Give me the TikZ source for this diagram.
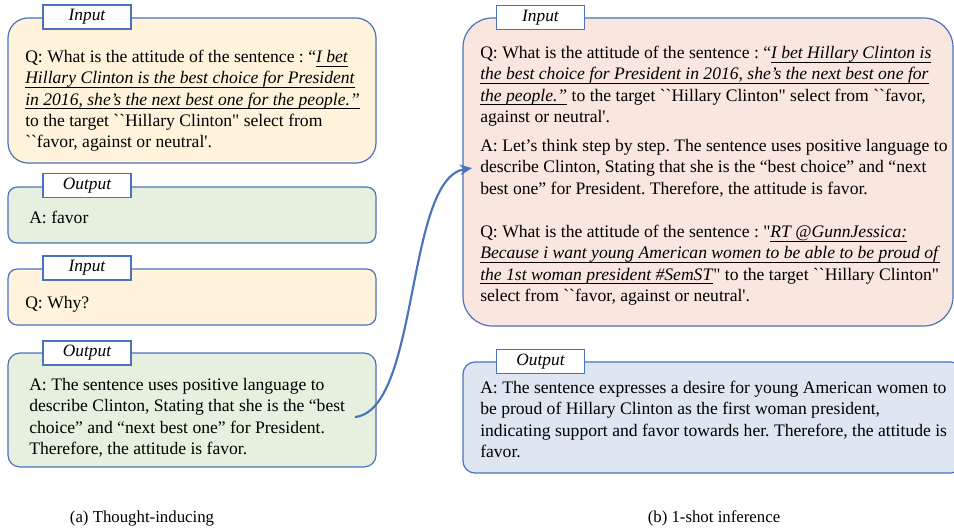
\documentclass[tikz,border=0pt]{standalone}
\usepackage{fontspec}
\setmainfont{Liberation Serif}[Ligatures=TeXOff]
\usepackage{tikz}
\usetikzlibrary{shapes}
\usetikzlibrary{arrows.meta}
\usetikzlibrary{calc}
\frenchspacing
\definecolor{inyellow}{HTML}{FFF3DC}
\definecolor{outgreen}{HTML}{E5F0DE}
\definecolor{inpeach}{HTML}{F9E6DE}
\definecolor{outblue}{HTML}{DEE6F2}
\definecolor{edgeblue}{HTML}{4A72BD}
\newsavebox{\ulbox}
\newcommand{\ulit}[1]{\sbox{\ulbox}{\textit{#1}}\rlap{\rule[-2.8pt]{\wd\ulbox}{0.6pt}}\usebox{\ulbox}}
\newcommand{\bq}{\textasciigrave\textasciigrave}
\tikzstyle{box}=[
        draw=edgeblue,
        line width=0.9pt,
        rectangle,
        inner sep=0pt
]
\tikzstyle{inbox}=[box,fill=inyellow]
\tikzstyle{outbox}=[box,fill=outgreen]
\tikzstyle{tab}=[rectangle,draw=edgeblue,line width=0.9pt,fill=white,
        minimum width=66pt,minimum height=18pt,inner sep=0pt,
        font=\fontsize{13}{14}\selectfont\itshape]
\tikzstyle{txt}=[anchor=north west,inner sep=0pt,align=left,
        font=\fontsize{13.2}{16}\selectfont]
\tikzstyle{caption}=[inner sep=0pt,font=\fontsize{12.6}{14}\selectfont]
\tikzstyle{lien}=[-{Stealth[length=9pt,width=8pt]},draw=edgeblue,line width=1.6pt]

\begin{document}
\begin{tikzpicture}[x=0.75pt,y=-0.75pt]
\useasboundingbox[fill=white] (0,0) rectangle (954,528);
\clip (0,0) rectangle (954,528);
% (a) left column
\node[inbox,rounded corners=15pt,minimum width=276pt,minimum height=108.75pt] (in1) at (192,90.5) {};
\node[outbox,rounded corners=7pt,minimum width=276pt,minimum height=42pt] (out1) at (192,215) {};
\node[inbox,rounded corners=7pt,minimum width=276pt,minimum height=42pt] (in2) at (192,297) {};
\node[outbox,rounded corners=9pt,minimum width=276pt,minimum height=85.5pt] (out2) at (192,410) {};
\node[tab] (tin1) at (87,17) {Input};
\node[tab] (tout1) at (87,185.5) {Output};
\node[tab] (tin2) at (87,268) {Input};
\node[tab] (tout2) at (87,353) {Output};
\node[txt] (q1) at (25,50) {Q: What is the attitude of the sentence : “\ulit{I bet}\\
\ulit{Hillary Clinton is the best choice for President}\\
\ulit{in 2016, she’s the next best one for the people.”}\\
to the target \bq Hillary Clinton" select from\\
\bq favor, against or neutral'.};
\node[txt] (a1) at (29,211) {A: favor};
\node[txt] (q2) at (25,296) {Q: Why?};
\node[txt] (a2) at (29,378) {A: The sentence uses positive language to\\
describe Clinton, Stating that she is the “best\\
choice” and “next best one” for President.\\
Therefore, the attitude is favor.};
\node[caption] (capa) at (142,518) {(a) Thought-inducing};
% (b) right column
\node[box,fill=inpeach,rounded corners=22pt,minimum width=367.5pt,minimum height=231pt] (in3) at (708,172) {};
\node[box,fill=outblue,rounded corners=9pt,minimum width=375pt,minimum height=83.25pt] (out3) at (713,417.5) {};
\node[tab] (tin3) at (540.5,17.5) {Input};
\node[tab] (tout3) at (540.5,361.5) {Output};
\node[txt] (q3) at (480,46) {Q: What is the attitude of the sentence : “\ulit{I bet Hillary Clinton is}\\
\ulit{the best choice for President in 2016, she’s the next best one for}\\
\ulit{the people.”} to the target \bq Hillary Clinton" select from \bq favor,\\
against or neutral'.};
\node[txt] (s3) at (480,139) {A: Let’s think step by step. The sentence uses positive language to\\
describe Clinton, Stating that she is the “best choice” and “next\\
best one” for President. Therefore, the attitude is favor.};
\node[txt] (q4) at (480,225) {Q: What is the attitude of the sentence : "\ulit{RT @GunnJessica:}\\
\ulit{Because i want young American women to be able to be proud of}\\
\ulit{the 1st woman president \#SemST}" to the target \bq Hillary Clinton"\\
select from \bq favor, against or neutral'.};
\node[txt] (a3) at (480,381) {A: The sentence expresses a desire for young American women to\\
be proud of Hillary Clinton as the first woman president,\\
indicating support and favor towards her. Therefore, the attitude is\\
favor.};
\node[caption] (capb) at (714,518) {(b) 1-shot inference};
% link
\coordinate (from) at (355,417);
\draw[lien] (from) .. controls (420,410) and (405,178) .. ([xshift=-6pt]s3.west);
\end{tikzpicture}
\end{document}
